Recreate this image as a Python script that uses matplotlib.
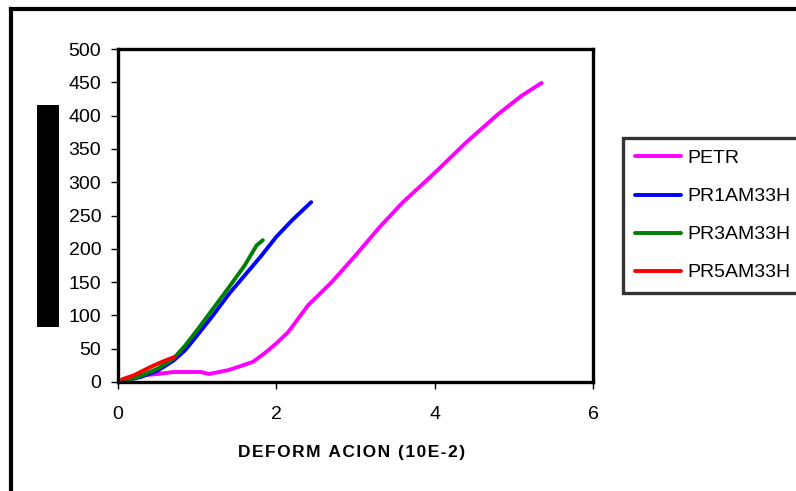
import matplotlib
matplotlib.use("Agg")
import matplotlib.pyplot as plt
from matplotlib.patches import Rectangle

plt.rcParams['font.family'] = ['Liberation Sans', 'DejaVu Sans']

# Stress vs. strain curves
petr_x = [0.1, 0.3, 0.5, 0.7, 0.9, 1.05, 1.15, 1.4, 1.7, 1.85, 2.0, 2.15, 2.4, 2.7, 3.0, 3.3, 3.6, 4.0, 4.4, 4.8, 5.1, 5.35]
petr_y = [5, 10, 12, 15, 15, 15, 12, 18, 30, 43, 58, 75, 115, 150, 190, 232, 270, 314, 360, 402, 430, 449]

pr1_x = [0.1, 0.3, 0.5, 0.7, 0.85, 1.0, 1.2, 1.4, 1.6, 1.8, 2.0, 2.2, 2.44]
pr1_y = [2, 8, 17, 32, 48, 70, 100, 132, 160, 188, 218, 243, 270]

pr3_x = [0.05, 0.3, 0.5, 0.7, 0.85, 1.0, 1.2, 1.4, 1.6, 1.75, 1.83]
pr3_y = [0, 10, 20, 35, 55, 78, 110, 142, 175, 205, 213]

pr5_x = [0.05, 0.2, 0.4, 0.55, 0.72]
pr5_y = [4, 10, 22, 30, 38]

labels = ['PETR', 'PR1AM33H', 'PR3AM33H', 'PR5AM33H']
colors = ['#FF00FF', '#0000FF', '#008000', '#FF0000']

x_ticks = [0, 2, 4, 6]
y_ticks = list(range(0, 501, 50))

x_title = 'DEFORM ACION (10E-2)'

W, H = 796, 491
fig = plt.figure(figsize=(W / 100, H / 100), dpi=100)
fig.patch.set_facecolor('white')

ax = fig.add_axes([118 / W, 1 - 382 / H, (593 - 118) / W, (382 - 49) / H])

series = [(petr_x, petr_y), (pr1_x, pr1_y), (pr3_x, pr3_y), (pr5_x, pr5_y)]
for (xs, ys), lab, col in zip(series, labels, colors):
    ax.plot(xs, ys, color=col, lw=2.8, label=lab, solid_capstyle='round')

ax.set_xlim(0, 6)
ax.set_ylim(0, 500)
ax.set_xticks(x_ticks)
ax.set_yticks(y_ticks)
ax.tick_params(axis='x', direction='out', length=5, width=1, pad=12, labelsize=14)
ax.tick_params(axis='y', direction='out', length=5, width=1, pad=7, labelsize=14)
for sp in ax.spines.values():
    sp.set_linewidth(2.4)
    sp.set_color('black')

# X axis title, letter-spaced with hair spaces
spaced = '\u200a'.join(x_title)
fig.text(352 / W, 1 - 452 / H, spaced, ha='center', va='center',
         fontsize=12.5, fontweight='bold')

# Legend
leg = fig.legend(loc='upper left', bbox_to_anchor=(623 / W, 1 - 138 / H),
                 fontsize=14, frameon=True, fancybox=False, handlelength=2.4,
                 handletextpad=0.3, labelspacing=1.05, borderpad=0.6, borderaxespad=0)
leg.get_frame().set_edgecolor('black')
leg.get_frame().set_linewidth(2.4)

# Black box on the left
fig.add_artist(Rectangle((37 / W, 1 - 327 / H), 22 / W, 222 / H, transform=fig.transFigure,
                         facecolor='black', edgecolor='none'))

# Outer frame (left and top edges)
fig.add_artist(plt.Line2D([11 / W, 11 / W], [0, 1 - 9 / H], transform=fig.transFigure,
                          color='black', lw=3))
fig.add_artist(plt.Line2D([11 / W, 1], [1 - 9 / H, 1 - 9 / H], transform=fig.transFigure,
                          color='black', lw=3))

fig.savefig('out.png', dpi=100)
